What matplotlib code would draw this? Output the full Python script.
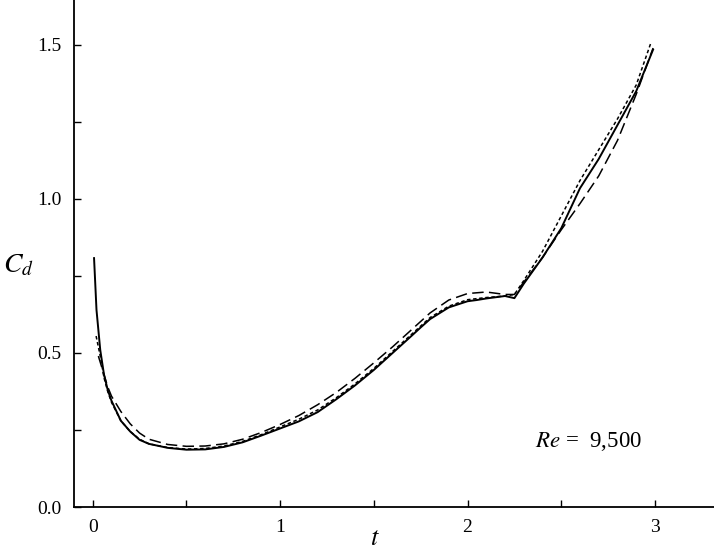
#!/usr/bin/env python
# Drag coefficient history Cd(t) at Re = 9,500, three runs
import numpy as np
import matplotlib.pyplot as plt

# values
t_solid = [0.007, 0.02, 0.04, 0.06, 0.08, 0.1, 0.15, 0.2, 0.25, 0.3, 0.4, 0.5,
           0.6, 0.7, 0.8, 0.9, 1.0, 1.1, 1.2, 1.3, 1.4, 1.5, 1.6, 1.7, 1.75,
           1.8, 1.9, 2.0, 2.05, 2.1, 2.2, 2.25, 2.3, 2.4, 2.5, 2.6, 2.7, 2.8,
           2.9, 2.99]
cd_solid = [0.808, 0.64, 0.51, 0.43, 0.38, 0.345, 0.28, 0.245, 0.218, 0.205,
            0.192, 0.186, 0.187, 0.195, 0.21, 0.232, 0.255, 0.278, 0.308,
            0.35, 0.395, 0.445, 0.50, 0.555, 0.583, 0.61, 0.648, 0.668, 0.672,
            0.677, 0.685, 0.678, 0.725, 0.81, 0.905, 1.035, 1.13, 1.24, 1.35,
            1.485]

t_dot = [0.018, 0.04, 0.06, 0.08, 0.1, 0.15, 0.2, 0.25, 0.3, 0.4, 0.5, 0.6,
         0.7, 0.8, 0.9, 1.0, 1.1, 1.2, 1.3, 1.4, 1.5, 1.6, 1.7, 1.8, 1.9, 2.0,
         2.1, 2.2, 2.25, 2.3, 2.4, 2.5, 2.6, 2.7, 2.8, 2.9, 2.98]
cd_dot = [0.555, 0.49, 0.42, 0.375, 0.34, 0.28, 0.245, 0.22, 0.205, 0.193,
          0.188, 0.19, 0.198, 0.213, 0.235, 0.26, 0.285, 0.315, 0.355, 0.40,
          0.45, 0.505, 0.56, 0.615, 0.652, 0.673, 0.68, 0.685, 0.69, 0.735,
          0.83, 0.945, 1.06, 1.16, 1.26, 1.37, 1.51]

t_dash = [0.03, 0.06, 0.08, 0.1, 0.15, 0.2, 0.25, 0.3, 0.4, 0.5, 0.6, 0.7,
          0.8, 0.9, 1.0, 1.1, 1.2, 1.3, 1.4, 1.5, 1.6, 1.7, 1.8, 1.9, 2.0,
          2.1, 2.2, 2.25, 2.3, 2.4, 2.5, 2.6, 2.7, 2.8, 2.9, 2.99]
cd_dash = [0.49, 0.43, 0.39, 0.36, 0.31, 0.27, 0.24, 0.22, 0.203, 0.197,
           0.198, 0.205, 0.22, 0.242, 0.268, 0.297, 0.332, 0.372, 0.418, 0.468,
           0.52, 0.575, 0.63, 0.672, 0.693, 0.698, 0.69, 0.69, 0.73, 0.81,
           0.9, 0.985, 1.075, 1.19, 1.34, 1.49]

plt.rcParams['font.family'] = 'Liberation Serif'
plt.rcParams['mathtext.fontset'] = 'stix'

fig = plt.figure(figsize=(7.14, 5.51), dpi=100)
ax = fig.add_axes([74 / 714, 44 / 551, 640 / 714, 507 / 551])

ax.plot(t_solid, cd_solid, color='black', lw=1.4)
ax.plot(t_dot, cd_dot, color='black', lw=1.1, dashes=(2.3, 1.7))
ax.plot(t_dash, cd_dash, color='black', lw=1.1, dashes=(7.5, 3.5))

ax.set_xlim(-0.10, 3.315)
ax.set_ylim(0, 1.646)
ax.set_xticks([0, 1, 2, 3])
ax.set_xticks([0.5, 1.5, 2.5], minor=True)
ax.set_yticks([0, 0.5, 1.0, 1.5])
ax.set_yticks([0.25, 0.75, 1.25], minor=True)
ax.set_yticklabels(['0.0', '0.5', '1.0', '1.5'])

for s in ['top', 'right']:
    ax.spines[s].set_visible(False)
for s in ['left', 'bottom']:
    ax.spines[s].set_linewidth(1.3)
ax.tick_params(which='both', direction='in', length=5, width=1.0,
               labelsize=14, pad=9)

# axis labels placed by hand, centred where the reference has them
ax.text(0.470, -0.064, '$t$', fontsize=19, ha='center', va='center',
        transform=ax.transAxes)
ax.text(-0.0875, 0.477, '$C_d$', fontsize=20, ha='center', va='center',
        transform=ax.transAxes)

ax.text(2.645, 0.213, r'$Re$ =  9,500', fontsize=16.5, ha='center', va='center')

fig.savefig('out.png', dpi=100)
